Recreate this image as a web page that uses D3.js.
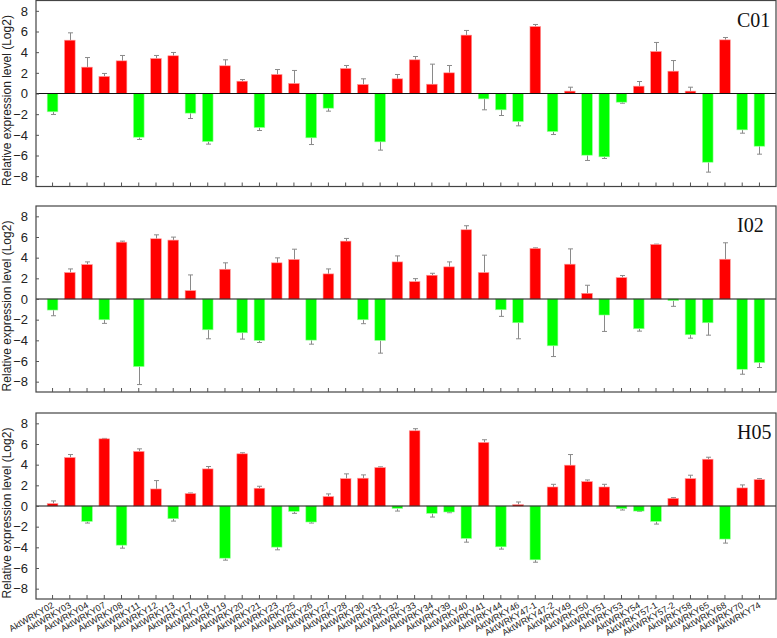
<!DOCTYPE html>
<html><head><meta charset="utf-8">
<script src="https://cdn.jsdelivr.net/npm/d3@7"></script>
<style>body{margin:0;background:#fff}svg{display:block}</style>
</head><body>
<svg id="c" width="777" height="638"></svg>
<script>
const genes = ["AktWRKY02","AktWRKY03","AktWRKY04","AktWRKY07","AktWRKY08","AktWRKY11","AktWRKY12","AktWRKY13","AktWRKY17","AktWRKY18","AktWRKY19","AktWRKY20","AktWRKY21","AktWRKY23","AktWRKY25","AktWRKY26","AktWRKY27","AktWRKY28","AktWRKY30","AktWRKY31","AktWRKY32","AktWRKY33","AktWRKY34","AktWRKY39","AktWRKY40","AktWRKY41","AktWRKY44","AktWRKY46","AktWRKY47-1","AktWRKY47-2","AktWRKY49","AktWRKY50","AktWRKY51","AktWRKY53","AktWRKY54","AktWRKY57-1","AktWRKY57-2","AktWRKY58","AktWRKY65","AktWRKY68","AktWRKY70","AktWRKY74"];
const yTicks = [-8,-6,-4,-2,0,2,4,6,8];
const panelNames = ["C01","I02","H05"];

const c01 = [-1.77,5.16,2.55,1.65,3.16,-4.23,3.39,3.65,-1.9,-4.65,2.68,1.19,-3.29,1.84,0.97,-4.29,-1.42,2.42,0.87,-4.68,1.42,3.26,0.9,2.0,5.65,-0.52,-1.58,-2.71,6.48,-3.68,0.23,-5.97,-6.13,-0.84,0.71,4.06,2.16,0.23,-6.65,5.19,-3.52,-5.1];
const c01Err = [0.26,0.71,0.93,0.29,0.52,0.22,0.29,0.32,0.52,0.25,0.58,0.16,0.29,0.48,1.26,0.65,0.29,0.29,0.55,0.8,0.42,0.32,1.94,0.71,0.45,1.06,0.55,0.42,0.2,0.29,0.38,0.51,0.16,0.1,0.45,0.88,1.03,0.38,0.96,0.23,0.32,0.77];
const i02 = [-1.07,2.56,3.33,-2.01,5.5,-6.54,5.83,5.7,0.81,-2.98,2.88,-3.27,-4.01,3.5,3.82,-3.98,2.43,5.6,-2.01,-4.01,3.59,1.68,2.3,3.11,6.7,2.56,-1.04,-2.3,4.89,-4.53,3.37,0.55,-1.55,2.07,-2.88,5.28,-0.16,-3.46,-2.3,3.85,-6.8,-6.15];
const i02Err = [0.55,0.35,0.26,0.35,0.1,1.74,0.38,0.29,1.52,0.87,0.62,0.61,0.2,0.48,1.0,0.39,0.48,0.26,0.38,1.23,0.58,0.29,0.19,0.48,0.39,1.68,0.64,1.55,0.06,1.04,1.48,0.78,1.59,0.2,0.23,0.03,0.55,0.33,1.2,1.59,0.48,0.48];
const h05 = [0.23,4.69,-1.49,6.5,-3.79,5.28,1.65,-1.23,1.2,3.59,-5.05,5.05,1.72,-3.98,-0.52,-1.55,0.91,2.65,2.69,3.72,-0.23,7.28,-0.71,-0.58,-3.14,6.15,-3.95,0.13,-5.21,1.84,3.95,2.36,1.84,-0.26,-0.49,-1.49,0.74,2.65,4.53,-3.2,1.75,2.56];
const h05Err = [0.26,0.29,0.16,0.04,0.29,0.25,0.81,0.23,0.06,0.23,0.19,0.1,0.19,0.26,0.19,0.1,0.26,0.46,0.32,0.07,0.26,0.2,0.36,0.07,0.36,0.26,0.22,0.26,0.23,0.26,1.03,0.16,0.26,0.13,0.03,0.26,0.07,0.33,0.19,0.39,0.29,0.09];

const panels = [
  {name: panelNames[0], vals: c01, errs: c01Err, top: 0.5, showLabels: false},
  {name: panelNames[1], vals: i02, errs: i02Err, top: 206, showLabels: false},
  {name: panelNames[2], vals: h05, errs: h05Err, top: 413, showLabels: true}
];

const svg = d3.select("#c");
const left = 36, right = 776, H = 186;
const x = d3.scaleBand().domain(genes).range([left, right]).paddingInner(0.38).paddingOuter(0.65);

panels.forEach(p => {
  const g = svg.append("g").attr("transform", `translate(0,${p.top})`);
  const y = d3.scaleLinear().domain([-9, 9]).range([H, 0]);
  const data = genes.map((k, i) => ({k, v: p.vals[i], e: p.errs[i]}));

  // error bars
  const eg = g.append("g").attr("stroke", "#8a8a8a").attr("stroke-width", 1);
  data.forEach(d => {
    const cx = Math.round(x(d.k) + x.bandwidth() / 2) + 0.5;
    const end = d.v >= 0 ? d.v + d.e : d.v - d.e;
    eg.append("line").attr("x1", cx).attr("x2", cx).attr("y1", y(d.v)).attr("y2", y(end));
    eg.append("line").attr("x1", cx - 2.5).attr("x2", cx + 2.5).attr("y1", y(end)).attr("y2", y(end));
  });

  // bars
  g.append("g").selectAll("rect").data(data).join("rect")
    .attr("x", d => x(d.k))
    .attr("width", x.bandwidth())
    .attr("y", d => y(Math.max(0, d.v)))
    .attr("height", d => Math.abs(y(d.v) - y(0)))
    .attr("fill", d => d.v >= 0 ? "#ff0000" : "#00ff00")
    .attr("stroke", d => d.v >= 0 ? "#ff9a9a" : "#9aff9a")
    .attr("stroke-width", 0.6);

  // zero line
  g.append("line").attr("x1", left).attr("x2", right).attr("y1", y(0)).attr("y2", y(0))
    .attr("stroke", "#111").attr("stroke-width", 1);

  // frame
  g.append("rect").attr("x", left).attr("y", 0).attr("width", right - left).attr("height", H)
    .attr("fill", "none").attr("stroke", "#444").attr("stroke-width", 1.2);

  // y axis
  const ya = g.append("g").attr("transform", `translate(${left},0)`)
    .call(d3.axisLeft(y).tickValues(yTicks).tickSize(-3).tickPadding(8).tickFormat(d3.format("d")));
  ya.select(".domain").remove();
  ya.selectAll(".tick line").attr("stroke", "#555");
  ya.selectAll("text").attr("font-family", "Arial, 'Liberation Sans', sans-serif").attr("font-size", 13).attr("fill", "#222");

  // x axis ticks
  const xa = g.append("g").attr("transform", `translate(0,${H})`)
    .call(d3.axisBottom(x).tickSize(-4).tickFormat(p.showLabels ? (d => d) : ""));
  xa.select(".domain").remove();
  xa.selectAll(".tick line").attr("stroke", "#555");
  if (p.showLabels) {
    xa.selectAll(".tick text")
      .attr("font-family", "Arial, 'Liberation Sans', sans-serif").attr("font-size", 9).attr("fill", "#222")
      .attr("text-anchor", "end").attr("dy", 0).attr("y", 0)
      .attr("transform", "translate(2,8) rotate(-30)");
  }

  // y title
  g.append("text").attr("transform", `translate(11,${100}) rotate(-90)`)
    .attr("text-anchor", "middle").attr("font-family", "Arial, 'Liberation Sans', sans-serif")
    .attr("font-size", 12).attr("fill", "#222").text("Relative expression level (Log2)");

  // panel name
  g.append("text").attr("x", 737).attr("y", 26)
    .attr("font-family", "'Times New Roman', 'Liberation Serif', serif").attr("font-size", 20).attr("fill", "#111")
    .text(p.name);
});
</script>
</body></html>
